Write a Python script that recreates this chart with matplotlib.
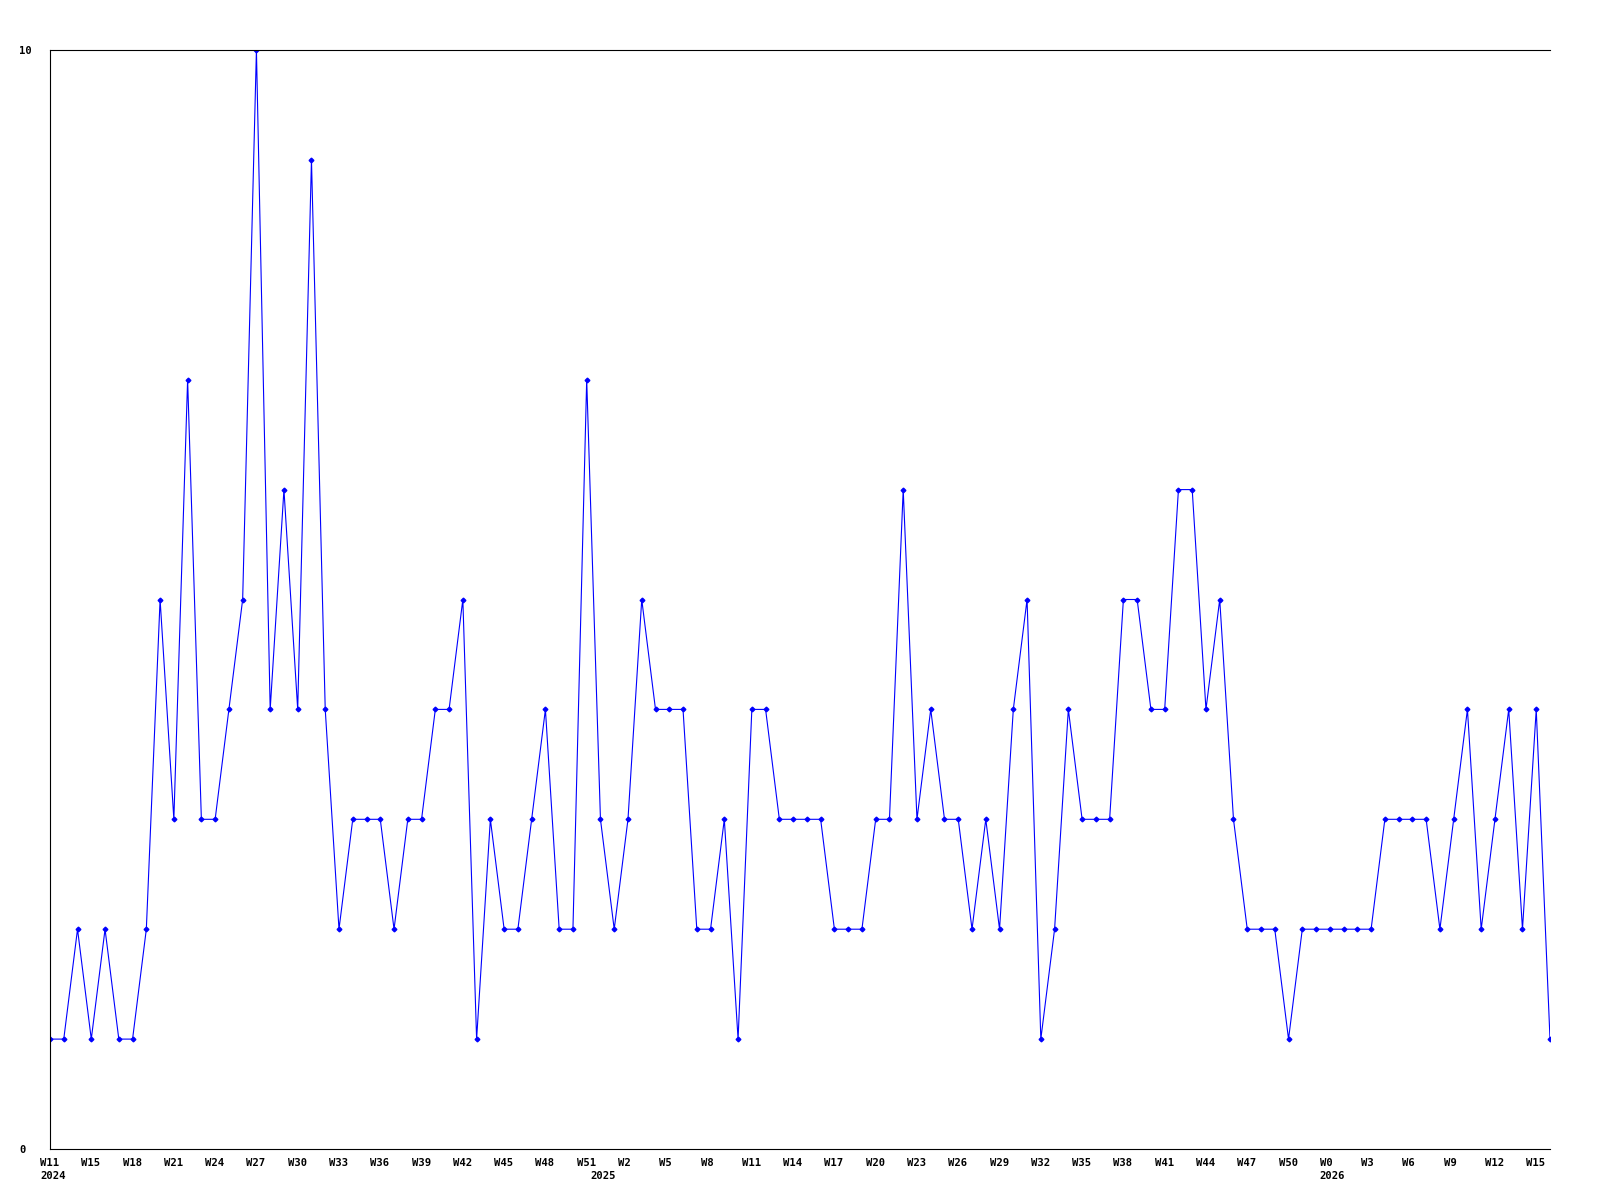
import matplotlib
matplotlib.use('Agg')
import matplotlib.pyplot as plt
import matplotlib.transforms as mtransforms
import numpy as np

# weekly counts, one per week
counts = [1, 1, 2, 1, 2, 1, 1, 2, 5, 3,
          7, 3, 3, 4, 5, 10, 4, 6, 4, 9,
          4, 2, 3, 3, 3, 2, 3, 3, 4, 4,
          5, 1, 3, 2, 2, 3, 4, 2, 2, 7,
          3, 2, 3, 5, 4, 4, 4, 2, 2, 3,
          1, 4, 4, 3, 3, 3, 3, 2, 2, 2,
          3, 3, 6, 3, 4, 3, 3, 2, 3, 2,
          4, 5, 1, 2, 4, 3, 3, 3, 5, 5,
          4, 4, 6, 6, 4, 5, 3, 2, 2, 2,
          1, 2, 2, 2, 2, 2, 2, 3, 3, 3,
          3, 2, 3, 4, 2, 3, 4, 2, 4, 1]

week_labels = ['W11', 'W15', 'W18', 'W21', 'W24', 'W27', 'W30', 'W33', 'W36',
               'W39', 'W42', 'W45', 'W48', 'W51', 'W2', 'W5', 'W8', 'W11',
               'W14', 'W17', 'W20', 'W23', 'W26', 'W29', 'W32', 'W35', 'W38',
               'W41', 'W44', 'W47', 'W50', 'W0', 'W3', 'W6', 'W9', 'W12', 'W15']
years = ['2024', '2025', '2026']
year_at = [0, 40, 93]   # week index where each year starts

n = len(counts)
x = np.arange(n)

FONT = dict(family='DejaVu Sans Mono', fontweight='bold', fontsize=7.6)

fig = plt.figure(figsize=(16, 12), dpi=100)
ax = fig.add_axes([50/1600, 51/1200, 1500/1600, 1099/1200])
ax.plot(x, counts, color='#0000ff', lw=0.8, marker='D', ms=2.4,
        mec='#0000ff', mfc='#0000ff')
ax.set_xlim(0, n - 1)
ax.set_ylim(0, 10)

for s in ['left', 'top', 'bottom']:
    ax.spines[s].set_linewidth(0.8)
ax.spines['right'].set_visible(False)

ax.set_yticks([0, 10])
ax.set_yticklabels(['0', '10'], **FONT)
ax.tick_params(axis='y', length=0, pad=22.3)
for lab in ax.get_yticklabels():
    lab.set_horizontalalignment('left')

# labels start a few pixels left of their week
shift = mtransforms.ScaledTranslation(-10/100, 0, fig.dpi_scale_trans)

ax.set_xticks(np.arange(0, n, 3)[:len(week_labels)])
ax.set_xticklabels(week_labels, **FONT)
ax.tick_params(axis='x', length=0, pad=6.2)
for lab in ax.get_xticklabels():
    lab.set_horizontalalignment('left')
    lab.set_transform(lab.get_transform() + shift)

# year row, fixed distance under the axis
for yr, pos in zip(years, year_at):
    ax.text(pos, -27/1099, yr, ha='left', va='center',
            transform=ax.get_xaxis_transform() + shift, **FONT)

fig.savefig('out.png', dpi=100)
